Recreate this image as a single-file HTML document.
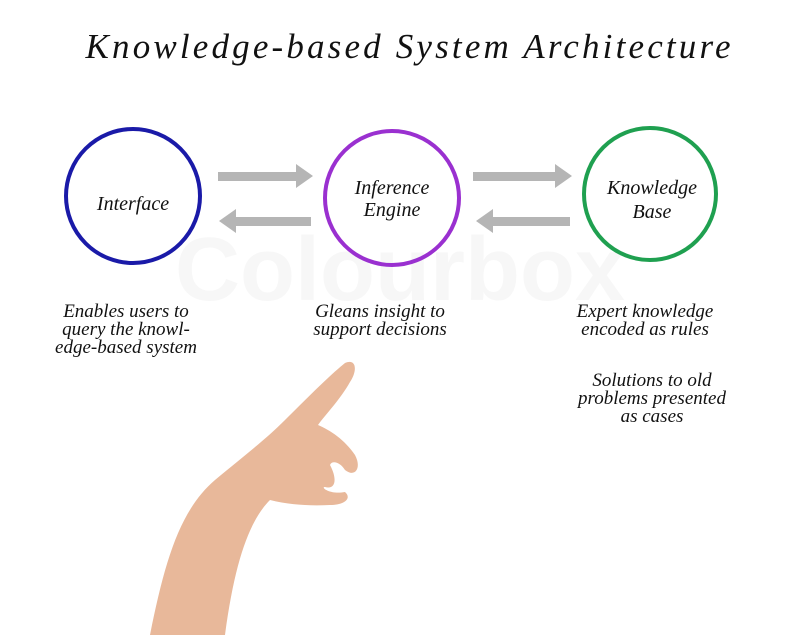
<!DOCTYPE html>
<html><head><style>
body{margin:0;width:800px;height:635px;background:#fff;overflow:hidden}
svg text{font-family:"Liberation Serif",serif;font-style:italic;fill:#111}
</style></head><body>
<svg width="800" height="635" viewBox="0 0 800 635">
<text x="400" y="300" font-size="90" text-anchor="middle" style="font-style:normal;font-family:'Liberation Sans',sans-serif;font-weight:bold;fill:#f7f7f7">Colourbox</text>
<text x="408" y="58" font-size="35" text-anchor="middle" textLength="645" lengthAdjust="spacing">Knowledge-based System Architecture</text>
<circle cx="133" cy="196" r="67" fill="none" stroke="#1a1aa8" stroke-width="4"/>
<circle cx="392" cy="198" r="67" fill="none" stroke="#9a30d0" stroke-width="4"/>
<circle cx="650" cy="194" r="66" fill="none" stroke="#1fa050" stroke-width="4"/>
<g fill="#b5b5b5">
<polygon points="218,172 296,172 296,164 313,176 296,188 296,181 218,181"/>
<polygon points="311,217 236,217 236,209 219,221 236,233 236,226 311,226"/>
<polygon points="473,172 555,172 555,164 572,176 555,188 555,181 473,181"/>
<polygon points="570,217 493,217 493,209 476,221 493,233 493,226 570,226"/>
</g>
<g font-size="20" text-anchor="middle">
<text x="133" y="210">Interface</text>
<text x="392" y="194">Inference</text><text x="392" y="216">Engine</text>
<text x="652" y="194">Knowledge</text><text x="652" y="218">Base</text>
</g>
<g font-size="19" text-anchor="middle">
<text x="126" y="317">Enables users to</text>
<text x="126" y="335">query the knowl-</text>
<text x="126" y="353">edge-based system</text>
<text x="380" y="317">Gleans insight to</text>
<text x="380" y="335">support decisions</text>
<text x="645" y="317">Expert knowledge</text>
<text x="645" y="335">encoded as rules</text>
<text x="652" y="386">Solutions to old</text>
<text x="652" y="404">problems presented</text>
<text x="652" y="422">as cases</text>
</g>
<path d="M150,635 C165,560 180,510 215,480 C245,455 265,440 285,420 C305,400 330,375 345,363 C356,358 358,370 350,382 C340,400 325,415 318,425 C330,430 345,440 355,455 C362,468 355,478 345,470 C340,462 332,460 330,465 C338,480 335,490 325,487 C320,487 330,495 345,492 C352,498 345,505 330,505 C310,506 290,505 270,500 C250,520 235,560 225,635 Z" fill="#e8b89a"/>
</svg>
</body></html>
